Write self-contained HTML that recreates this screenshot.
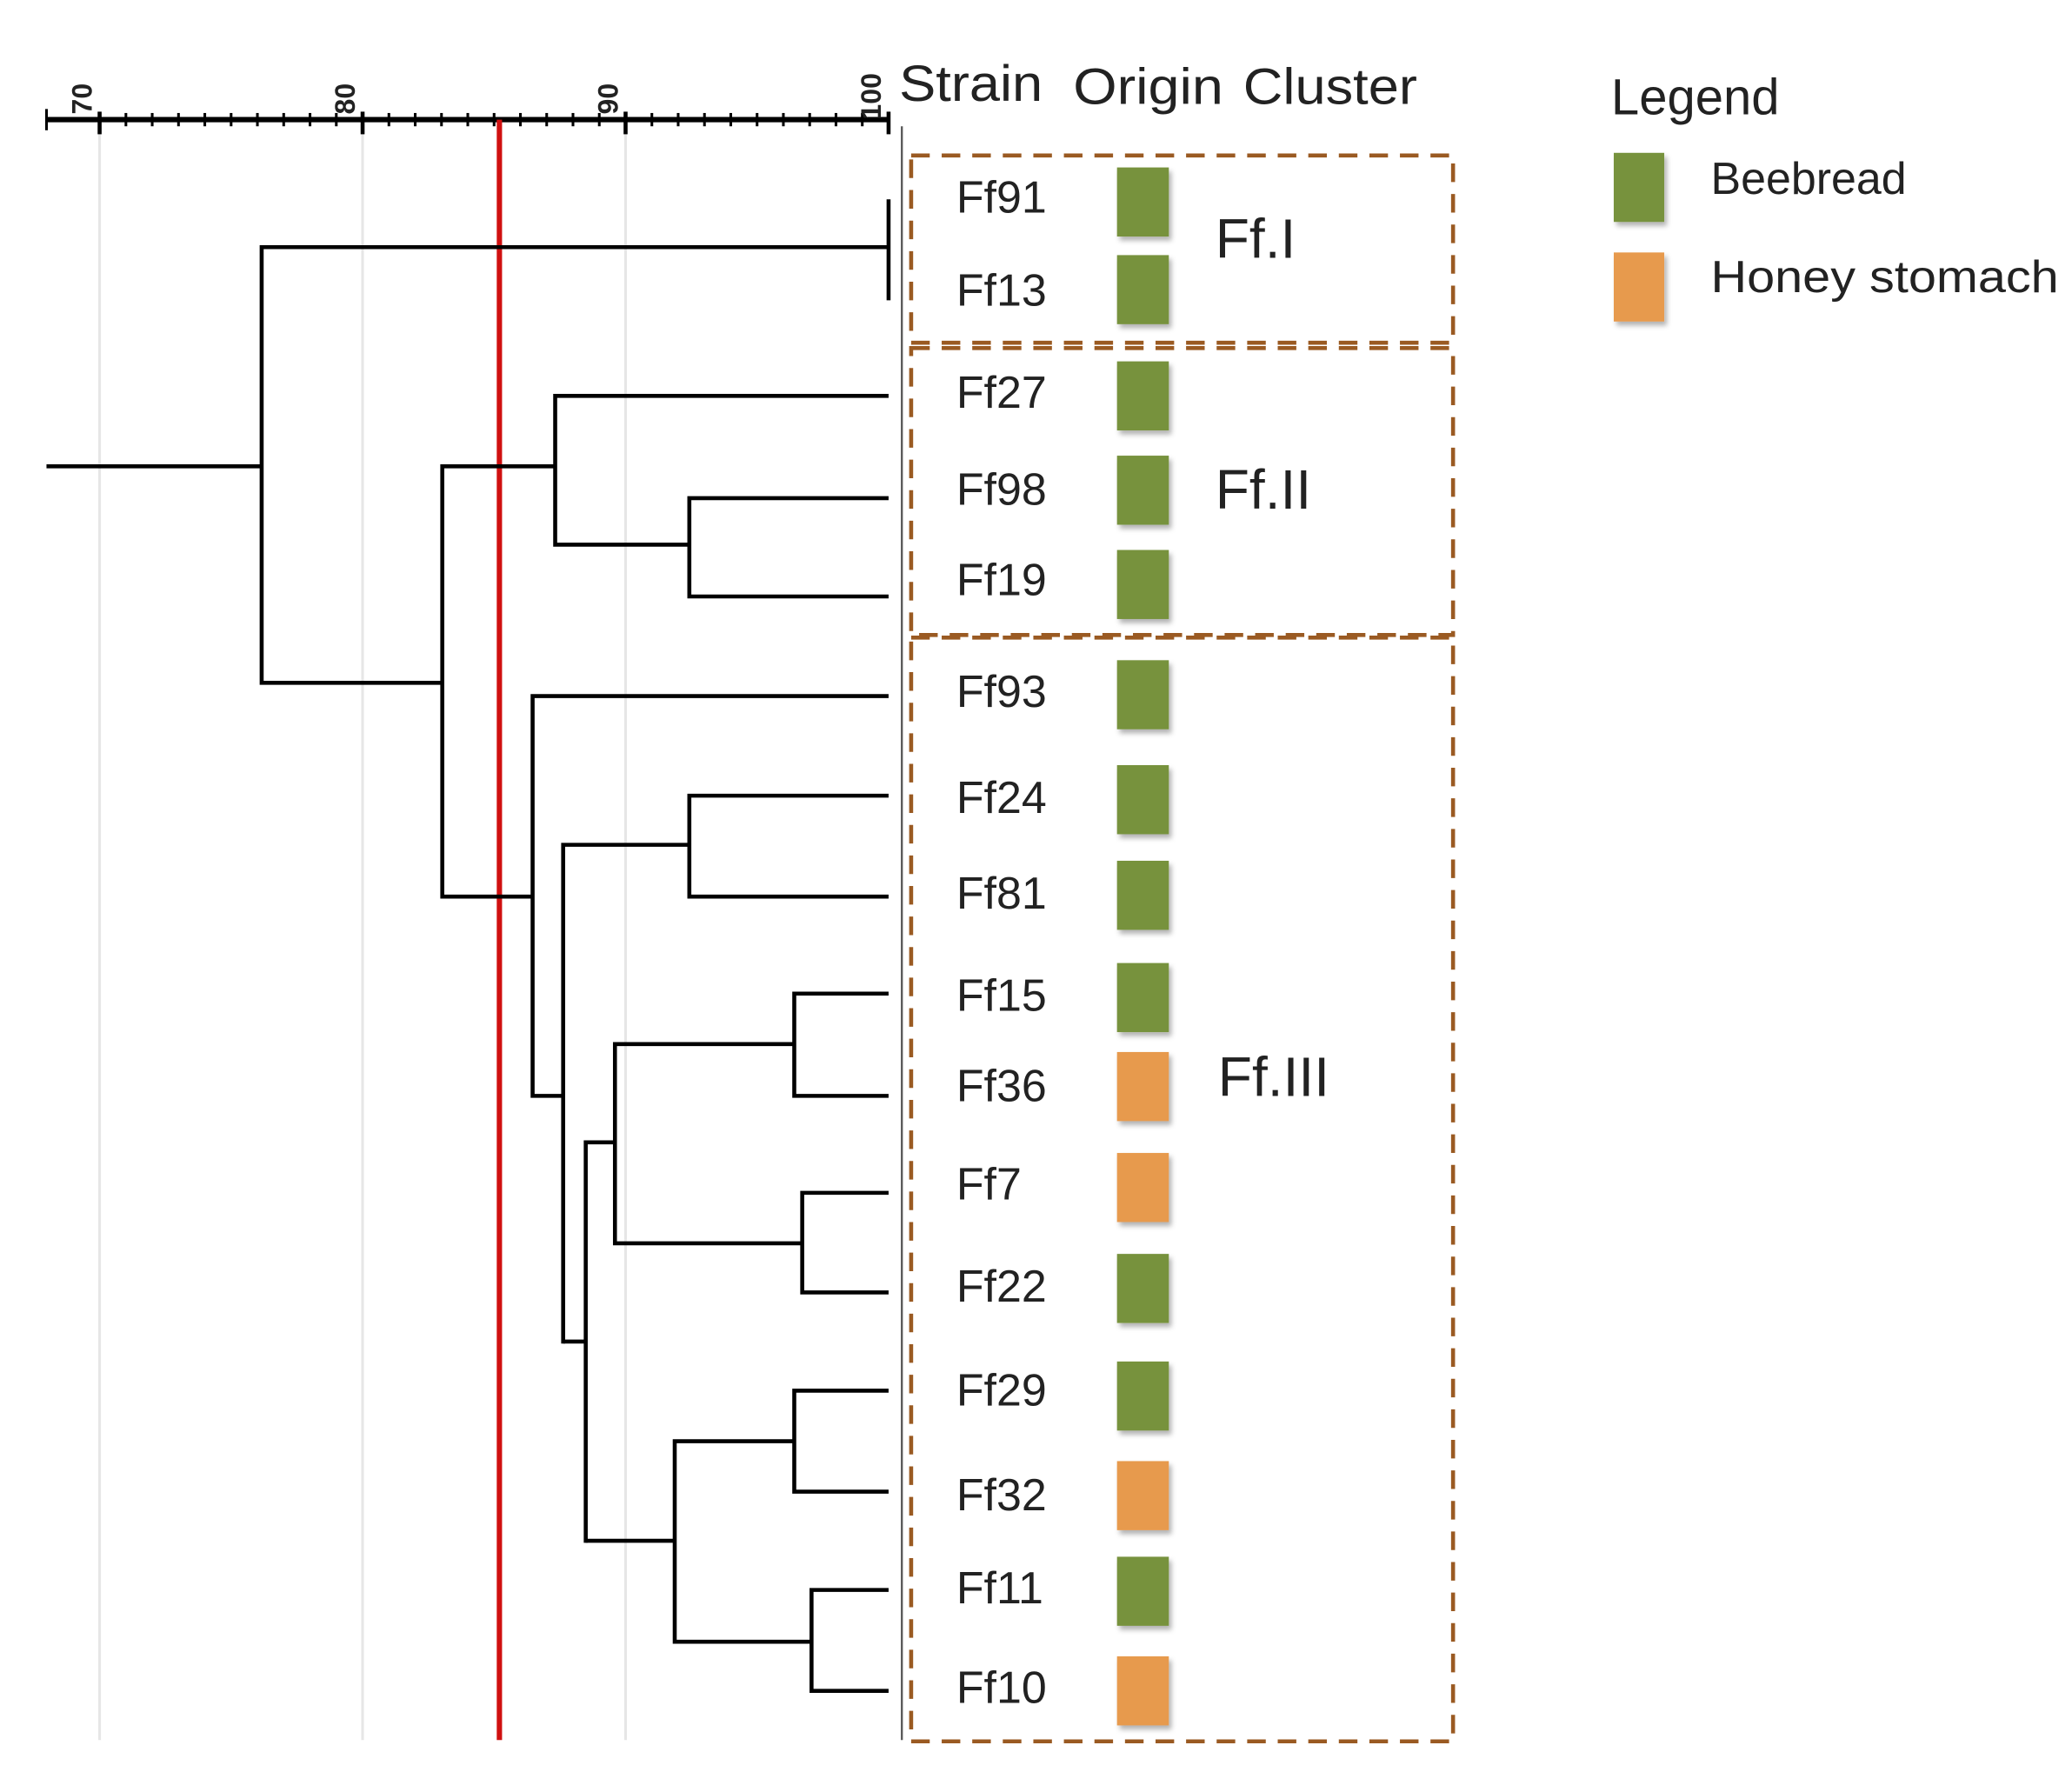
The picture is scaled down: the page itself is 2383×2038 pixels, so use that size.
<!DOCTYPE html>
<html><head><meta charset="utf-8"><style>
html,body{margin:0;padding:0;background:#fff;}
svg{display:block;}
text{font-family:"Liberation Sans","DejaVu Sans",sans-serif;fill:#222;}
</style></head><body>
<svg width="2383" height="2038" viewBox="0 0 1560 1334" xmlns="http://www.w3.org/2000/svg">
<defs>
<filter id="sh" x="-30%" y="-30%" width="160%" height="160%"><feDropShadow dx="2" dy="3" stdDeviation="2" flood-color="#000" flood-opacity="0.3"/></filter>
</defs>
<g stroke="#e6e6e6" stroke-width="2">
<line x1="75" y1="92" x2="75" y2="1310"/>
<line x1="273" y1="92" x2="273" y2="1310"/>
<line x1="471" y1="92" x2="471" y2="1310"/>
</g>
<line x1="35" y1="90" x2="670" y2="90" stroke="#000" stroke-width="4"/>
<g stroke="#000" stroke-width="2">
<line x1="35" y1="82" x2="35" y2="98"/>
<line x1="94.8" y1="85" x2="94.8" y2="95"/><line x1="114.6" y1="85" x2="114.6" y2="95"/><line x1="134.4" y1="85" x2="134.4" y2="95"/><line x1="154.2" y1="85" x2="154.2" y2="95"/><line x1="174" y1="85" x2="174" y2="95"/><line x1="193.8" y1="85" x2="193.8" y2="95"/><line x1="213.6" y1="85" x2="213.6" y2="95"/><line x1="233.4" y1="85" x2="233.4" y2="95"/><line x1="253.2" y1="85" x2="253.2" y2="95"/>
<line x1="292.8" y1="85" x2="292.8" y2="95"/><line x1="312.6" y1="85" x2="312.6" y2="95"/><line x1="332.4" y1="85" x2="332.4" y2="95"/><line x1="352.2" y1="85" x2="352.2" y2="95"/><line x1="372" y1="85" x2="372" y2="95"/><line x1="391.8" y1="85" x2="391.8" y2="95"/><line x1="411.6" y1="85" x2="411.6" y2="95"/><line x1="431.4" y1="85" x2="431.4" y2="95"/><line x1="451.2" y1="85" x2="451.2" y2="95"/>
<line x1="490.8" y1="85" x2="490.8" y2="95"/><line x1="510.6" y1="85" x2="510.6" y2="95"/><line x1="530.4" y1="85" x2="530.4" y2="95"/><line x1="550.2" y1="85" x2="550.2" y2="95"/><line x1="570" y1="85" x2="570" y2="95"/><line x1="589.8" y1="85" x2="589.8" y2="95"/><line x1="609.6" y1="85" x2="609.6" y2="95"/><line x1="629.4" y1="85" x2="629.4" y2="95"/><line x1="649.2" y1="85" x2="649.2" y2="95"/>
<line x1="75" y1="84" x2="75" y2="101" stroke-width="3"/>
<line x1="273" y1="84" x2="273" y2="101" stroke-width="3"/>
<line x1="471" y1="84" x2="471" y2="101" stroke-width="3"/>
<line x1="669" y1="84" x2="669" y2="101" stroke-width="3"/>
</g>
<g font-size="21" font-weight="bold">
<text transform="translate(69,86) rotate(-90)" fill="#000">70</text>
<text transform="translate(267,86) rotate(-90)" fill="#000">80</text>
<text transform="translate(465,86) rotate(-90)" fill="#000">90</text>
<text transform="translate(663,90) rotate(-90)" fill="#000">100</text>
</g>
<line x1="376" y1="90" x2="376" y2="1310" stroke="#d01010" stroke-width="4"/>
<line x1="679" y1="95" x2="679" y2="1310" stroke="#555" stroke-width="1.5"/>
<g stroke="#000" stroke-width="3" fill="none">
<line x1="669" y1="150" x2="669" y2="226"/>
<path d="M35 351H197 M197 186H669 M197 184.5V515.5 M197 514H333"/>
<path d="M333 349.5V676.5 M333 351H418 M418 296.5V411.5 M418 298H669 M418 410H519 M519 373.5V450.5 M519 375H669 M519 449H669"/>
<path d="M333 675H401 M401 522.5V826.5 M401 524H669 M401 825H424 M424 634.5V1011.5 M424 636H519 M519 597.5V676.5 M519 599H669 M519 675H669"/>
<path d="M424 1010H441 M441 858.5V1161.5 M441 860H463 M463 784.5V937.5 M463 786H598 M598 746.5V826.5 M598 748H669 M598 825H669 M463 936H604 M604 896.5V974.5 M604 898H669 M604 973H669"/>
<path d="M441 1160H508 M508 1083.5V1237.5 M508 1085H598 M598 1045.5V1124.5 M598 1047H669 M598 1123H669 M508 1236H611 M611 1195.5V1274.5 M611 1197H669 M611 1273H669"/>
</g>
<text x="677" y="76" font-size="38" textLength="108" lengthAdjust="spacingAndGlyphs">Strain</text>
<text x="808" y="78" font-size="38" textLength="113" lengthAdjust="spacingAndGlyphs">Origin</text>
<text x="936" y="78" font-size="38" textLength="131" lengthAdjust="spacingAndGlyphs">Cluster</text>
<g fill="none" stroke="#9a5a22" stroke-width="3" stroke-dasharray="14,9">
<rect x="686" y="117" width="408" height="141"/>
<rect x="686" y="262" width="408" height="216"/>
<rect x="686" y="480" width="408" height="831"/>
</g>
<g font-size="34">
<text x="720" y="160">Ff91</text>
<text x="720" y="230">Ff13</text>
<text x="720" y="307">Ff27</text>
<text x="720" y="380">Ff98</text>
<text x="720" y="448">Ff19</text>
<text x="720" y="532">Ff93</text>
<text x="720" y="612">Ff24</text>
<text x="720" y="684">Ff81</text>
<text x="720" y="761">Ff15</text>
<text x="720" y="829">Ff36</text>
<text x="720" y="903">Ff7</text>
<text x="720" y="980">Ff22</text>
<text x="720" y="1058">Ff29</text>
<text x="720" y="1137">Ff32</text>
<text x="720" y="1207">Ff11</text>
<text x="720" y="1282">Ff10</text>
</g>
<g filter="url(#sh)">
<rect x="841" y="126" width="39" height="52" fill="#77923c"/>
<rect x="841" y="192" width="39" height="52" fill="#77923c"/>
<rect x="841" y="272" width="39" height="52" fill="#77923c"/>
<rect x="841" y="343" width="39" height="52" fill="#77923c"/>
<rect x="841" y="414" width="39" height="52" fill="#77923c"/>
<rect x="841" y="497" width="39" height="52" fill="#77923c"/>
<rect x="841" y="576" width="39" height="52" fill="#77923c"/>
<rect x="841" y="648" width="39" height="52" fill="#77923c"/>
<rect x="841" y="725" width="39" height="52" fill="#77923c"/>
<rect x="841" y="792" width="39" height="52" fill="#e79a4e"/>
<rect x="841" y="868" width="39" height="52" fill="#e79a4e"/>
<rect x="841" y="944" width="39" height="52" fill="#77923c"/>
<rect x="841" y="1025" width="39" height="52" fill="#77923c"/>
<rect x="841" y="1100" width="39" height="52" fill="#e79a4e"/>
<rect x="841" y="1172" width="39" height="52" fill="#77923c"/>
<rect x="841" y="1247" width="39" height="52" fill="#e79a4e"/>
<rect x="1215" y="115" width="38" height="52" fill="#77923c"/>
<rect x="1215" y="190" width="38" height="52" fill="#e79a4e"/>
</g>
<g font-size="42">
<text x="915" y="194">Ff.I</text>
<text x="915" y="383">Ff.II</text>
<text x="917" y="825">Ff.III</text>
</g>
<text x="1213" y="86" font-size="38">Legend</text>
<text x="1288" y="146" font-size="34">Beebread</text>
<text x="1288" y="220" font-size="34" textLength="262" lengthAdjust="spacingAndGlyphs">Honey stomach</text>
</svg>
</body></html>
